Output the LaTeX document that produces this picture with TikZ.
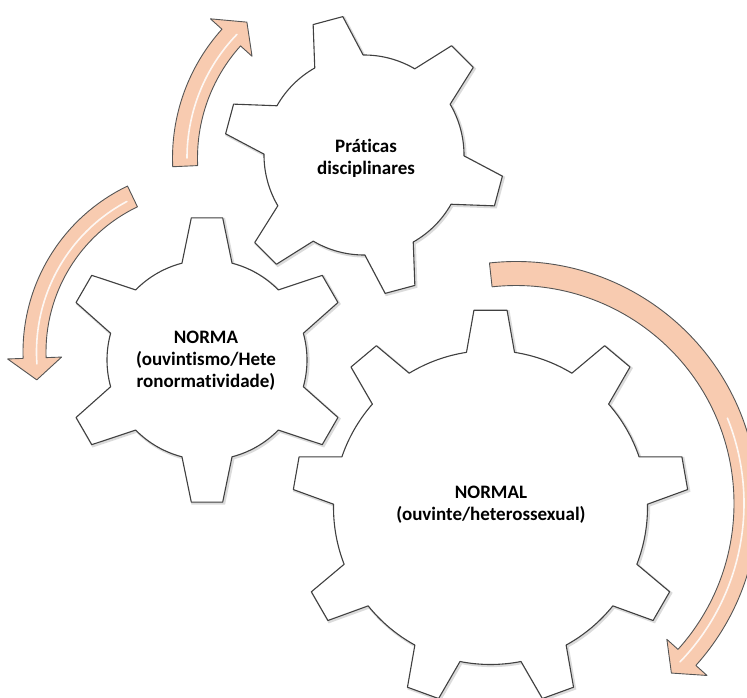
\documentclass[tikz,border=0pt]{standalone}
\usepackage{fontspec}
\setmainfont[Ligatures=NoCommon]{Carlito}
\definecolor{arrowfill}{RGB}{248,203,176}
\definecolor{gearline}{RGB}{64,64,64}
\definecolor{arrowline}{RGB}{85,85,85}

\newcommand{\gear}[7]{% center, teeth, root r, tip r, first tooth, base half angle, tip half angle
  \begin{scope}[shift={(#1)}]
  \pgfmathsetmacro\gstep{360/#2}
  \draw[gear] ({#5-#6}:#3)
    \foreach \k in {1,...,#2}{
      -- ({#5+(\k-1)*\gstep-#6}:#3) -- ({#5+(\k-1)*\gstep-#7}:#4)
      -- ({#5+(\k-1)*\gstep+#7}:#4) -- ({#5+(\k-1)*\gstep+#6}:#3)
      arc[start angle={#5+(\k-1)*\gstep+#6}, end angle={#5+\k*\gstep-#6}, radius=#3]
    } -- cycle;
  \end{scope}}

\newcommand{\ringarrow}[9]{% center, mid r, half width, tail, head base, tip, head half width, glow from, glow to
  \begin{scope}[shift={(#1)}]
  \draw[ringarrow] ({#4}:{#2+#3}) arc[start angle={#4}, end angle={#5}, radius={#2+#3}]
    -- ({#5}:{#2+#7}) -- ({#6}:{#2}) -- ({#5}:{#2-#7}) -- ({#5}:{#2-#3})
    arc[start angle={#5}, end angle={#4}, radius={#2-#3}] -- cycle;
  \draw[glow] ({#8}:{#2-2}) arc[start angle={#8}, end angle={#9}, radius={#2-2}];
  \end{scope}}

\begin{document}
\begin{tikzpicture}[x=1pt,y=1pt,
  gear/.style={fill=white, draw=gearline, line width=1.1pt, line join=round,
    preaction={draw=black!14, line width=2.6pt, transform canvas={shift={(1.3pt,-1.3pt)}}}},
  ringarrow/.style={fill=arrowfill, draw=arrowline, line width=0.9pt, line join=round},
  glow/.style={draw=white, line width=1.6pt, line cap=round, opacity=0.85},
  label/.style={font=\bfseries\fontsize{19}{22}\selectfont, align=center}]
\useasboundingbox (0,0) rectangle (747,697);

\coordinate (praticas) at (364,542);
\coordinate (norma) at (207,337);
\coordinate (normal) at (490.5,189.5);

\gear{praticas}{6}{100}{140}{105}{14.5}{6.3}
\gear{norma}{6}{100}{143}{90}{14.5}{6.3}
\gear{normal}{9}{157}{198}{90}{8.8}{4.8}

\ringarrow{365,539}{180}{12.5}{182.6}{138}{131}{28}{180}{136}
\ringarrow{207,345}{172.5}{11.5}{115.6}{182}{189.3}{27}{118}{184}
\ringarrow{516,193.5}{230}{12}{96.3}{-42}{-47.5}{27}{22}{-44}

\node[label] (txtpraticas) at (366,539) {Práticas\\disciplinares};
\node[label] (txtnorma) at (206,336) {NORMA\\(ouvintismo/Hete\\ronormatividade)};
\node[label] (txtnormal) at (491,192) {NORMAL\\(ouvinte/heterossexual)};
\end{tikzpicture}
\end{document}
